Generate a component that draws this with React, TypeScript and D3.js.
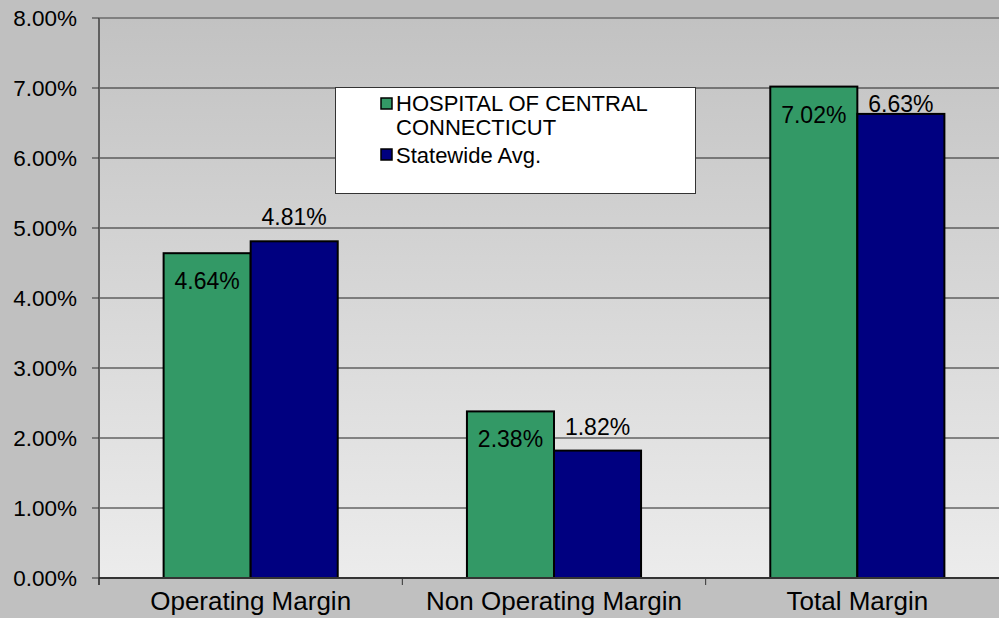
import React from 'react';
import * as d3 from 'd3';

const categories = ['Operating Margin', 'Non Operating Margin', 'Total Margin'];
const seriesNames = ['HOSPITAL OF CENTRAL CONNECTICUT', 'Statewide Avg.'];
const hospital = [4.64, 2.38, 7.02];
const statewide = [4.81, 1.82, 6.63];
const yTicks = [0, 1, 2, 3, 4, 5, 6, 7, 8];
const colors = ['#339966', '#000080'];

// label nudges (px) used in the original for the statewide labels
const stateLabelDy = [-24, -24, -10];

const W = 999;
const H = 618;
const left = 99;
const top = 18;
const bottom = 578;
const right = 1009;

const App: React.FC = () => {
  const x0 = d3.scaleBand<string>()
    .domain(categories)
    .range([left, right])
    .paddingInner(0.426)
    .paddingOuter(0.213);
  const x1 = d3.scaleBand<string>()
    .domain(seriesNames)
    .range([0, x0.bandwidth()])
    .padding(0);
  const y = d3.scaleLinear().domain([0, 8]).range([bottom, top]);

  const series = [hospital, statewide];
  const step = x0.step();
  const catTicks = d3.range(categories.length + 1).map(i => left + i * step);

  return (
    <svg width={W} height={H} style={{ position: 'absolute', left: 0, top: 0, display: 'block' }}
      fontFamily="'Liberation Sans', Arial, sans-serif">
      <defs>
        <linearGradient id="plotbg" x1="0" y1="0" x2="0" y2="1">
          <stop offset="0" stopColor="#c2c2c2" />
          <stop offset="1" stopColor="#ececec" />
        </linearGradient>
      </defs>
      <rect x={0} y={0} width={W} height={H} fill="#c0c0c0" />
      <rect x={left} y={top} width={right - left} height={bottom - top} fill="url(#plotbg)" />

      {/* gridlines */}
      {yTicks.filter(t => t > 0 && t < 8).map(t => (
        <line key={t} x1={left} x2={right} y1={y(t)} y2={y(t)} stroke="#222" strokeWidth={1} />
      ))}
      <line x1={left} x2={right} y1={y(8)} y2={y(8)} stroke="#808080" strokeWidth={2} />

      {/* bars */}
      {categories.map((c, i) => (
        <g key={c} transform={`translate(${x0(c)},0)`}>
          {seriesNames.map((s, j) => (
            <rect key={s} x={x1(s)} y={y(series[j][i])} width={x1.bandwidth()}
              height={bottom - y(series[j][i])} fill={colors[j]} stroke="#000" strokeWidth={2} />
          ))}
        </g>
      ))}

      {/* data labels */}
      {categories.map((c, i) => (
        <g key={c + 'lbl'} fontSize={23} fill="#000" textAnchor="middle">
          <text x={(x0(c) || 0) + (x1(seriesNames[0]) || 0) + x1.bandwidth() / 2}
            y={y(hospital[i]) + 28} dy="0.35em">{hospital[i].toFixed(2)}%</text>
          <text x={(x0(c) || 0) + (x1(seriesNames[1]) || 0) + x1.bandwidth() / 2}
            y={y(statewide[i]) + stateLabelDy[i]} dy="0.35em">{statewide[i].toFixed(2)}%</text>
        </g>
      ))}

      {/* y axis */}
      <line x1={left} x2={left} y1={top} y2={bottom + 7} stroke="#606060" strokeWidth={2} />
      {yTicks.map(t => (
        <g key={'yt' + t}>
          <line x1={left - 7} x2={left} y1={y(t)} y2={y(t)} stroke="#333" strokeWidth={1} />
          <text x={77} y={y(t)} dy="0.36em" textAnchor="end" fontSize={22.5} fill="#000">
            {t.toFixed(2)}%
          </text>
        </g>
      ))}

      {/* x axis */}
      <line x1={left} x2={right} y1={bottom} y2={bottom} stroke="#333" strokeWidth={2} />
      {catTicks.map((t, i) => (
        <line key={'xt' + i} x1={t} x2={t} y1={bottom} y2={bottom + 7} stroke="#333" strokeWidth={1} />
      ))}
      {categories.map(c => (
        <text key={c + 'x'} x={(x0(c) || 0) + x0.bandwidth() / 2} y={610} textAnchor="middle"
          fontSize={26} fill="#000">{c}</text>
      ))}

      {/* legend */}
      <g>
        <rect x={335.5} y={87.5} width={360} height={106} fill="#fff" stroke="#333" strokeWidth={1} />
        <rect x={381} y={98} width={11} height={11} fill={colors[0]} stroke="#000" strokeWidth={1.5} />
        <text x={396} y={103} dy="0.36em" fontSize={22} fill="#000">HOSPITAL OF CENTRAL</text>
        <text x={396} y={127} dy="0.36em" fontSize={22} fill="#000">CONNECTICUT</text>
        <rect x={381} y={149} width={11} height={11} fill={colors[1]} stroke="#000" strokeWidth={1.5} />
        <text x={396} y={155} dy="0.36em" fontSize={22} fill="#000">{seriesNames[1]}</text>
      </g>
    </svg>
  );
};

export default App;
